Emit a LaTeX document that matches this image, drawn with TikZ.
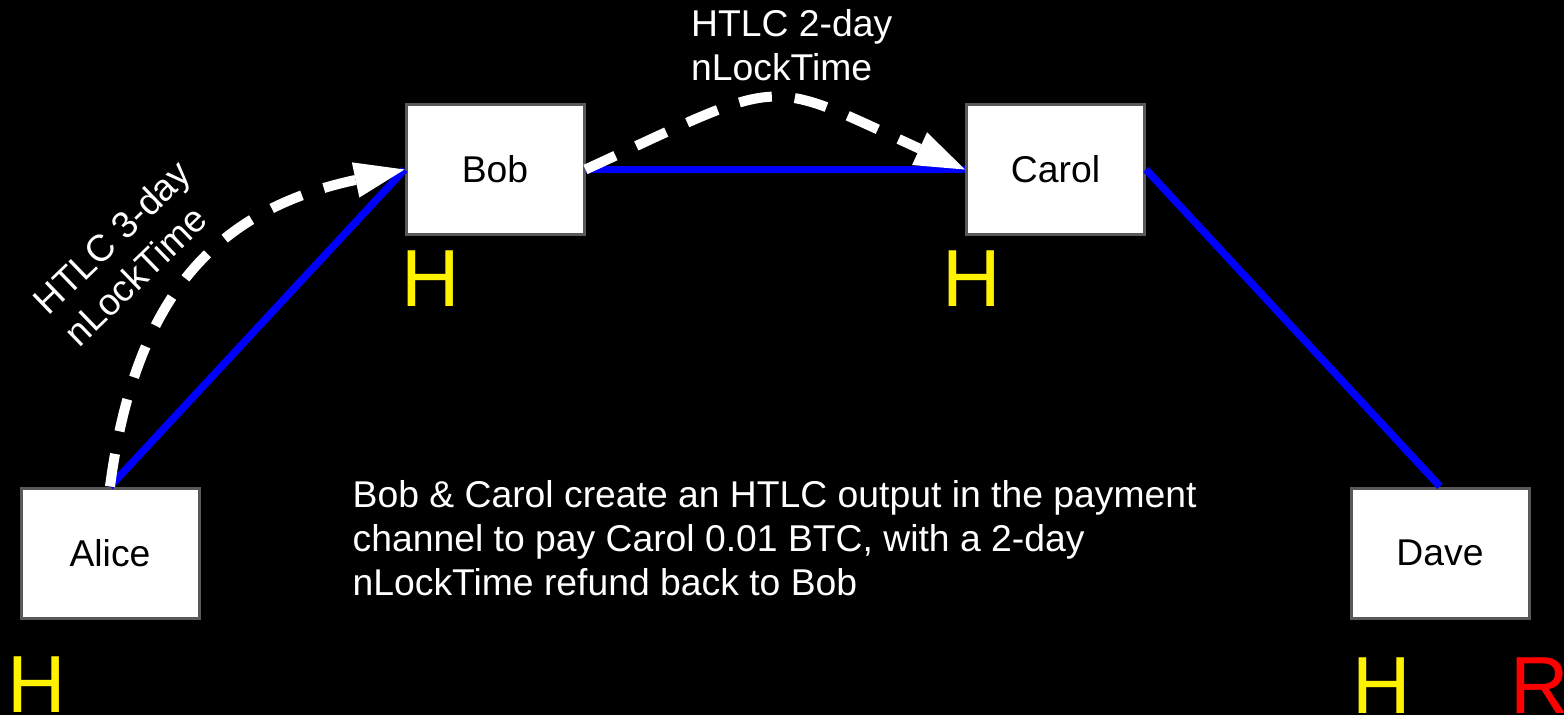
\documentclass[tikz,border=0pt]{standalone}
\usepackage{fontspec}
\setmainfont{Liberation Sans}
\usetikzlibrary{arrows.meta}
\definecolor{boxgray}{HTML}{595959}
\begin{document}
\begin{tikzpicture}[x=1pt,y=-1pt,
  person/.style={draw=boxgray, line width=3pt, fill=white, minimum width=178pt, minimum height=130pt, inner sep=0pt, font=\fontsize{37.3}{44}\selectfont, text=black},
  chan/.style={draw=blue, line width=7.5pt},
  htlc/.style={draw=white, line width=10pt, dash pattern=on 33pt off 23pt, -{Triangle[length=50pt,width=36pt,line width=0pt]}},
  bigletter/.style={font=\fontsize{81}{90}\selectfont, inner sep=0pt, anchor=base west},
  lbl/.style={text=white, font=\fontsize{37.3}{44}\selectfont, inner sep=0pt, align=left}]
\fill[black] (0,0) rectangle (1564,715);
\useasboundingbox (0,0) rectangle (1564,715);
\node[person] (alice) at (110,553) {Alice};
\node[person] (bob) at (495,169.5) {Bob};
\node[person] (carol) at (1055.5,169.5) {Carol};
\node[person] (dave) at (1440,553) {Dave};
\draw[chan] (alice.north) -- (bob.west);
\draw[chan] (bob.east) -- (carol.west);
\draw[chan] (carol.east) -- (dave.north);
\draw[htlc] (alice.north) .. controls (135,297) and (215,210) .. (bob.west);
\draw[htlc] (bob.east) .. controls (789,76) and (761,76) .. (carol.west);
\node[bigletter, text=yellow] (hbob) at (401,306) {H};
\node[bigletter, text=yellow] (hcarol) at (942,306) {H};
\node[bigletter, text=yellow] (halice) at (7,712) {H};
\node[bigletter, text=yellow] (hdave) at (1352,713) {H};
\node[bigletter, text=red] (rdave) at (1510,713) {R};
\node[lbl, rotate=44] (lab1) at (127,253) {HTLC 3-day\\nLockTime};
\node[lbl, anchor=north west] (lab2) at (691,9) {HTLC 2-day\\nLockTime};
\node[lbl, anchor=north west] (note) at (352.5,480) {Bob \& Carol create an HTLC output in the payment\\channel to pay Carol 0.01 BTC, with a 2-day\\nLockTime refund back to Bob};
\end{tikzpicture}
\end{document}
